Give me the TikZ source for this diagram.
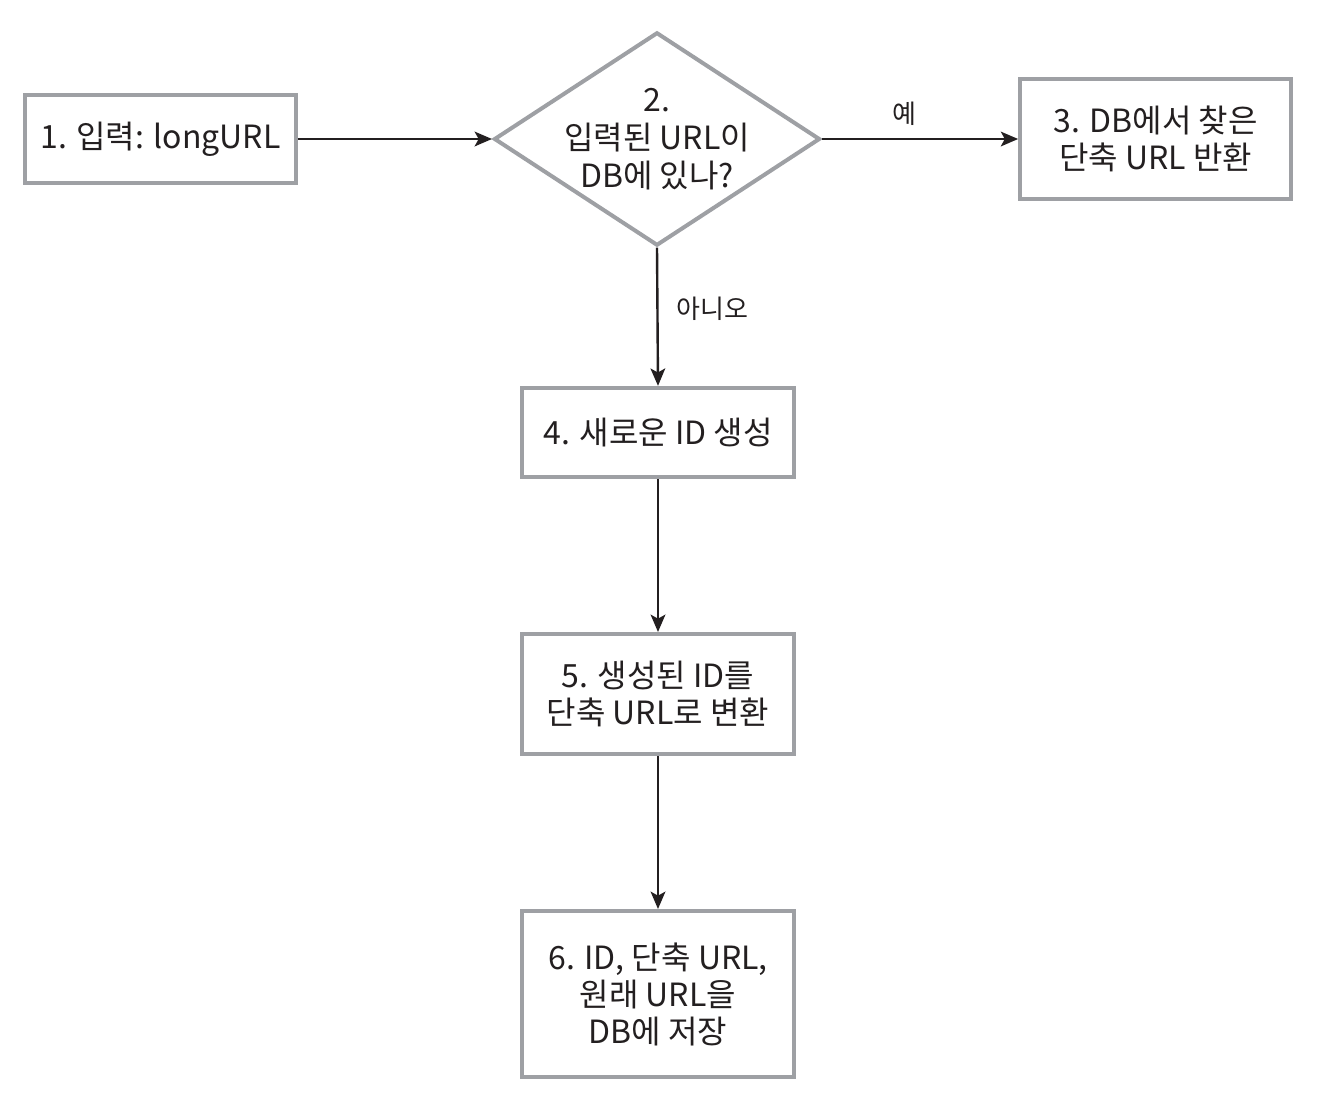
\documentclass[tikz,border=0pt]{standalone}
\usepackage{fontspec}
\setmainfont{Noto Sans CJK KR}
\usepackage{xcolor}
\usetikzlibrary{shapes.geometric,arrows.meta}

\definecolor{boxgray}{RGB}{158,160,164}
\definecolor{inkblack}{RGB}{35,31,32}

\begin{document}
\begin{tikzpicture}[x=0.75pt,y=0.75pt,yscale=-1,xscale=1,
  proc/.style={draw=boxgray, line width=3pt, fill=white, align=center, inner sep=0pt, text=inkblack, font=\fontsize{24}{27.75}\selectfont},
  decide/.style={draw=boxgray, line width=3pt, shape=diamond, inner sep=0pt, minimum width=244.5pt, minimum height=160pt},
  flow/.style={draw=inkblack, line width=1.8pt, -{Stealth[length=13pt,width=11pt,inset=3pt]}},
  tag/.style={text=inkblack, font=\fontsize{19.5}{22}\selectfont}]
\useasboundingbox (0,0) rectangle (1328,1100);

%Shape: Rectangle
\node [proc, minimum width=203pt, minimum height=66pt] (input) at (160.5,139) {1. 입력: longURL};
%Shape: Diamond
\node [decide, label={[align=center, inner sep=0pt, text=inkblack, font=\fontsize{24}{28.5}\selectfont]center:{2.\\입력된 URL이\\DB에 있나?}}] (check) at (657,139) {};
%Shape: Rectangle
\node [proc, minimum width=203pt, minimum height=90pt] (found) at (1155.5,139) {3. DB에서 찾은\\단축 URL 반환};
%Shape: Rectangle
\node [proc, minimum width=204pt, minimum height=67pt] (newid) at (658,432.5) {4. 새로운 ID 생성};
%Shape: Rectangle
\node [proc, minimum width=204pt, minimum height=90pt] (encode) at (658,694) {5. 생성된 ID를\\단축 URL로 변환};
%Shape: Rectangle
\node [proc, minimum width=204pt, minimum height=124.5pt] (store) at (658,994) {6. ID, 단축 URL,\\원래 URL을\\DB에 저장};

%Straight Lines
\draw [flow] (input.east) -- (check.west) ;
%Straight Lines
\draw [flow] (check.east) -- node [tag, above=6pt, pos=0.42] (yes) {예} (found.west) ;
%Straight Lines
\draw [flow] (check.south) -- node [tag, right=10pt, pos=0.44] (no) {아니오} (newid.north) ;
%Straight Lines
\draw [flow] (newid.south) -- (encode.north) ;
%Straight Lines
\draw [flow] (encode.south) -- (store.north) ;

\end{tikzpicture}
\end{document}
